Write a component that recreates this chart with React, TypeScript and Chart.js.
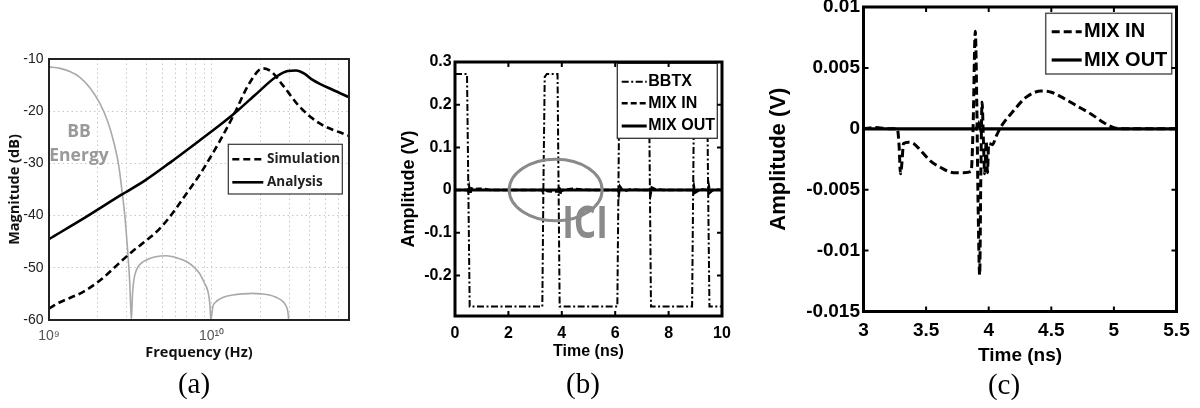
import React, { useEffect, useRef } from "react";
import { Chart, registerables } from "chart.js";

Chart.register(...registerables);

// ---------------- Panel (a) data : magnitude vs frequency ----------------
const A_SIM_FREQ = [1.0e9, 1.168e9, 1.623e9, 2.1e9, 2.662e9, 3.217e9, 3.882e9, 4.797e9, 5.929e9, 6.996e9, 8.441e9, 1.019e10, 1.12e10, 1.384e10, 1.711e10, 2.064e10, 2.324e10, 2.738e10, 3.467e10, 4.598e10, 6.86e10, 7.0e10];
const A_SIM_DB = [-57.8, -56.6, -54.6, -52.2, -49.3, -47.0, -45.0, -42.5, -39.0, -35.8, -32.2, -28.0, -25.8, -20.4, -14.6, -11.8, -12.4, -15.0, -19.1, -22.3, -24.6, -24.7];

const A_ANA_FREQ = [1.0e9, 1.663e9, 2.793e9, 3.882e9, 5.525e9, 8.441e9, 1.12e10, 1.384e10, 1.836e10, 2.494e10, 2.938e10, 3.309e10, 3.72e10, 4.183e10, 5.55e10, 7.0e10];
const A_ANA_DB = [-44.5, -40.4, -36.0, -33.3, -29.9, -25.6, -22.7, -20.4, -17.0, -13.4, -12.3, -12.2, -12.8, -14.0, -15.9, -17.3];

const A_BB_FREQ = [
  1.0e9, 1.168e9, 1.345e9, 1.549e9, 1.784e9, 2.055e9, 2.3e9, 2.506e9, 2.688e9, 2.805e9, 2.926e9, 3.05e9, 3.14e9, 3.21e9,
  3.263e9, 3.32e9, 3.45e9, 3.67e9, 3.98e9, 4.53e9, 5.27e9, 6.1e9, 7.0e9, 7.87e9, 8.44e9, 9.06e9, 9.49e9, 9.76e9, 9.9e9,
  1.007e10, 1.019e10, 1.058e10, 1.12e10, 1.22e10, 1.352e10, 1.55e10, 1.79e10, 2.03e10, 2.27e10, 2.47e10, 2.68e10, 2.81e10, 2.9e10, 2.95e10, 2.98e10,
];
const A_BB_DB = [
  -11.5, -11.8, -12.4, -13.5, -15.5, -18.5, -22, -26, -30.5, -35, -40, -47, -53, -60,
  -55, -52.5, -50.4, -49.2, -48.5, -47.9, -47.7, -48.1, -48.8, -50.0, -51.1, -53, -54.5, -57, -60,
  -58.5, -57.4, -56.6, -56.0, -55.5, -55.2, -55.0, -54.9, -55.0, -55.2, -55.6, -56.2, -56.8, -57.6, -58.6, -60,
];

const A_Y_TICKS = [-60, -50, -40, -30, -20, -10];
const A_X_GRID = [1e9, 2e9, 3e9, 4e9, 5e9, 6e9, 7e9, 8e9, 9e9, 1e10, 2e10, 3e10, 4e10, 5e10, 6e10, 7e10];
const A_X_MAJOR = [1e9, 1e10];
const A_X_MAJOR_LABELS = ["10⁹", "10¹⁰"];
const A_LABELS = ["Simulation", "Analysis", "BB Energy"];
const A_NOTE = ["BB", "Energy"];

// ---------------- Panel (b) data : time domain ----------------
const B_BBTX_TIME = [0, 0.45, 0.5, 0.55, 3.27, 3.31, 3.36, 3.44, 3.84, 3.88, 3.92, 6.08, 6.12, 6.16, 7.26, 7.3, 7.34, 8.88, 8.92, 8.96, 9.44, 9.48, 9.53, 10];
const B_BBTX = [0.272, 0.272, 0, -0.273, -0.273, 0, 0.265, 0.272, 0.272, 0, -0.273, -0.273, 0, 0.272, 0.272, 0, -0.273, -0.273, 0, 0.272, 0.272, 0, -0.273, -0.273];

const B_MIX_TIME = [0, 0.45, 0.5, 0.53, 0.57, 0.62, 0.7, 0.9, 1.1, 1.3, 3.27, 3.29, 3.33, 3.5, 3.7, 3.86, 3.89, 3.93, 3.97, 4.05, 4.4, 4.8, 5.1, 6.08, 6.11, 6.14, 6.18, 6.3, 6.6, 7.0, 7.27, 7.3, 7.33, 7.37, 7.5, 7.8, 8.89, 8.92, 8.95, 8.99, 9.2, 9.45, 9.48, 9.51, 9.55, 9.7, 10];
const B_MIX_IN = [0, 0, -0.004, 0.006, -0.01, 0.004, 0.002, 0.003, 0.003, 0, 0, -0.0037, -0.0012, -0.0026, -0.0036, -0.0035, 0.008, -0.012, -0.003, 0, 0.003, 0.001, 0, 0, 0.004, -0.008, 0.008, -0.003, 0.002, 0, 0, 0.004, -0.008, 0.006, 0.002, 0, 0, -0.004, 0.008, -0.006, 0.002, 0, -0.004, 0.008, -0.006, 0.002, 0];

const B_OUT_TIME = [0, 3.9, 3.93, 3.96, 10];
const B_MIX_OUT = [0, 0, 0.002, 0, 0];

const B_X_TICKS = [0, 2, 4, 6, 8, 10];
const B_Y_TICKS = [-0.2, -0.1, 0, 0.1, 0.2, 0.3];
const B_LABELS = ["BBTX", "MIX IN", "MIX OUT"];
const B_NOTE = "ICI";
const B_ICI_CENTER = [3.77, 0];
const B_ICI_RADII = [1.74, 0.072];
const B_ICI_TEXT_AT = [4.87, -0.112];

// ---------------- Panel (c) data : zoomed time domain ----------------
const C_TIME = [3.0, 3.1, 3.2, 3.27, 3.285, 3.295, 3.305, 3.32, 3.36, 3.4, 3.45, 3.53, 3.62, 3.72, 3.8, 3.86, 3.875, 3.893, 3.905, 3.915, 3.928, 3.937, 3.947, 3.958, 3.968, 3.98, 3.99, 4.0, 4.03, 4.06, 4.1, 4.2, 4.3, 4.42, 4.5, 4.6, 4.7, 4.82, 4.92, 5.0, 5.1, 5.3, 5.5];
const C_MIX_IN = [0, 0.0001, 0, 0, -0.0015, -0.0037, -0.003, -0.0012, -0.0011, -0.0012, -0.0017, -0.0026, -0.0032, -0.0036, -0.0036, -0.0035, 0, 0.008, 0.002, -0.006, -0.012, -0.004, 0.0022, -0.001, -0.0037, -0.001, -0.0036, -0.0012, -0.0013, -0.0006, 0.0002, 0.0015, 0.0026, 0.0031, 0.003, 0.0025, 0.0019, 0.0012, 0.0005, 0.0001, 0, 0, 0];
const C_OUT_TIME = [3.0, 3.9, 3.92, 3.94, 3.96, 5.5];
const C_MIX_OUT = [0, 0, 0.0004, -0.0002, 0, 0];

const C_X_TICKS = [3, 3.5, 4, 4.5, 5, 5.5];
const C_Y_TICKS = [-0.015, -0.01, -0.005, 0, 0.005, 0.01];
const C_LABELS = ["MIX IN", "MIX OUT"];

const PANEL_LABELS = ["(a)", "(b)", "(c)"];

// ---------------- layout ----------------
type Rect = { x: number; y: number; w: number; h: number };
type Area = { l: number; t: number; r: number; b: number };

const SANS = '"Liberation Sans", Arial, Helvetica, sans-serif';
const OPEN = '"Open Sans", "Liberation Sans", Arial, sans-serif';
const SERIF = '"Liberation Serif", "Times New Roman", Times, serif';

const A_CANVAS: Rect = { x: 0, y: 0, w: 400, h: 408 };
const A_AREA: Area = { l: 49, t: 59, r: 349, b: 320 };
const B_CANVAS: Rect = { x: 380, y: 0, w: 400, h: 408 };
const B_AREA: Area = { l: 455, t: 62, r: 722, b: 316 };
const C_CANVAS: Rect = { x: 740, y: -30, w: 460, h: 438 };
const C_AREA: Area = { l: 863.5, t: 7, r: 1176.5, b: 311.5 };
const PANEL_LABEL_POS = [
  [194, 385.5],
  [583, 385.5],
  [1004, 387],
];

function pts(xs: number[], ys: number[]) {
  return xs.map((x, i) => ({ x, y: ys[i] }));
}

function computeLayout(can: Rect, area: Area, yTitleX: number, yTitleLH: number, xTitleY: number, xTitleLH: number) {
  const l = area.l - can.x;
  const t = area.t - can.y;
  const r = area.r - can.x;
  const b = area.b - can.y;
  const padLeft = yTitleX - can.x - yTitleLH / 2;
  const xBottom = xTitleY - can.y + xTitleLH / 2;
  return {
    padding: { left: padLeft, top: t, right: can.w - r, bottom: can.h - xBottom },
    yWidth: l - padLeft,
    xHeight: xBottom - b,
  };
}

function fixedTicks(values: number[]) {
  return (s: any) => {
    s.ticks = values.map((v) => ({ value: v }));
  };
}

function drawFrame(chart: any, lw: number, color: string, ticksX: number[], ticksY: number[], len: number) {
  const { ctx, chartArea: a, scales } = chart;
  ctx.save();
  ctx.setLineDash([]);
  ctx.strokeStyle = color;
  ctx.lineWidth = lw;
  ctx.strokeRect(a.left, a.top, a.right - a.left, a.bottom - a.top);
  ctx.lineWidth = 2;
  ctx.beginPath();
  ticksX.forEach((v) => {
    const p = scales.x.getPixelForValue(v);
    ctx.moveTo(p, a.bottom);
    ctx.lineTo(p, a.bottom - len);
    ctx.moveTo(p, a.top);
    ctx.lineTo(p, a.top + len);
  });
  ticksY.forEach((v) => {
    const p = scales.y.getPixelForValue(v);
    ctx.moveTo(a.left, p);
    ctx.lineTo(a.left + len, p);
    ctx.moveTo(a.right, p);
    ctx.lineTo(a.right - len, p);
  });
  ctx.stroke();
  ctx.restore();
}

type LegendSpec = {
  box: Rect;
  rows: { index: number; y: number }[];
  sx0: number;
  sx1: number;
  tx: number;
  font: string;
  color: string;
  stroke: string;
  strokeWidth: number;
};

function drawLegend(chart: any, spec: LegendSpec) {
  const { ctx } = chart;
  const { box } = spec;
  ctx.save();
  ctx.setLineDash([]);
  ctx.fillStyle = "#ffffff";
  ctx.fillRect(box.x, box.y, box.w, box.h);
  ctx.lineWidth = spec.strokeWidth;
  ctx.strokeStyle = spec.stroke;
  ctx.strokeRect(box.x, box.y, box.w, box.h);
  spec.rows.forEach((row) => {
    const ds = chart.data.datasets[row.index];
    ctx.save();
    ctx.strokeStyle = ds.borderColor;
    ctx.lineWidth = ds.borderWidth;
    ctx.setLineDash(ds.borderDash || []);
    ctx.beginPath();
    ctx.moveTo(spec.sx0, row.y);
    ctx.lineTo(spec.sx1, row.y);
    ctx.stroke();
    ctx.restore();
    ctx.fillStyle = spec.color;
    ctx.font = spec.font;
    ctx.textAlign = "left";
    ctx.textBaseline = "middle";
    ctx.fillText(ds.label, spec.tx, row.y);
  });
  ctx.restore();
}

const baseOptions = (lay: any) => ({
  responsive: false,
  animation: false,
  devicePixelRatio: 1,
  events: [],
  layout: { padding: lay.padding },
  plugins: { legend: { display: false }, tooltip: { enabled: false }, title: { display: false } },
});

// ---------------- configs ----------------
function configA(): any {
  const yLH = 14.5 * 1.2;
  const xLH = 14.5 * 1.2;
  const lay = computeLayout(A_CANVAS, A_AREA, 15, yLH, 353, xLH);
  const gridColor = "#c8c8c8";
  return {
    type: "line",
    data: {
      datasets: [
        { label: A_LABELS[0], data: pts(A_SIM_FREQ, A_SIM_DB), borderColor: "#000", borderWidth: 2.6, borderDash: [7, 4], pointRadius: 0, cubicInterpolationMode: "monotone", fill: false, order: 2 },
        { label: A_LABELS[1], data: pts(A_ANA_FREQ, A_ANA_DB), borderColor: "#000", borderWidth: 2.6, pointRadius: 0, cubicInterpolationMode: "monotone", fill: false, order: 1 },
        { label: A_LABELS[2], data: pts(A_BB_FREQ, A_BB_DB), borderColor: "#a9a9a9", borderWidth: 1.6, pointRadius: 0, cubicInterpolationMode: "monotone", fill: false, order: 3 },
      ],
    },
    options: {
      ...baseOptions(lay),
      scales: {
        x: {
          type: "logarithmic",
          min: 1e9,
          max: 7e10,
          afterBuildTicks: fixedTicks(A_X_GRID),
          afterFit: (s: any) => { s.height = lay.xHeight; },
          ticks: {
            autoSkip: false, maxRotation: 0, minRotation: 0, padding: 8, color: "#555",
            font: { family: SANS, size: 14 },
            callback: (v: number) => { const i = A_X_MAJOR.indexOf(v); return i >= 0 ? A_X_MAJOR_LABELS[i] : ""; },
          },
          grid: { color: gridColor, lineWidth: 1, drawTicks: false },
          border: { display: false, dash: [1.5, 3] },
          title: { display: true, text: "Frequency (Hz)", color: "#111", padding: 0, font: { family: OPEN, size: 14.5, weight: "bold", lineHeight: 1.2 } },
        },
        y: {
          type: "linear",
          min: -60,
          max: -10,
          afterBuildTicks: fixedTicks(A_Y_TICKS),
          afterFit: (s: any) => { s.width = lay.yWidth; },
          ticks: { padding: 5.5, color: "#222", font: { family: SANS, size: 14 }, callback: (v: number) => String(v) },
          grid: { color: gridColor, lineWidth: 1, drawTicks: false },
          border: { display: false, dash: [1.5, 3] },
          title: { display: true, text: "Magnitude (dB)", color: "#111", padding: 0, font: { family: OPEN, size: 14.5, weight: "bold", lineHeight: 1.2 } },
        },
      },
    },
    plugins: [
      {
        id: "decorA",
        afterDatasetsDraw(chart: any) {
          const { ctx, scales } = chart;
          ctx.save();
          ctx.fillStyle = "#999999";
          ctx.font = `bold 17.5px ${OPEN}`;
          ctx.textAlign = "center";
          ctx.textBaseline = "alphabetic";
          const nx = scales.x.getPixelForValue(1.53e9);
          ctx.fillText(A_NOTE[0], nx, scales.y.getPixelForValue(-24.9));
          ctx.fillText(A_NOTE[1], nx, scales.y.getPixelForValue(-29.5));
          ctx.restore();
          drawLegend(chart, {
            box: { x: 228.3, y: 144.3, w: 114, h: 49.7 },
            rows: [ { index: 0, y: 159.3 }, { index: 1, y: 182.3 } ],
            sx0: 232.3, sx1: 263.3, tx: 267,
            font: `bold 13.5px ${OPEN}`, color: "#222", stroke: "#333", strokeWidth: 1.2,
          });
          drawFrame(chart, 2, "#222", [], [], 0);
        },
      },
    ],
  };
}

function configB(): any {
  const yLH = 18 * 1.2;
  const xLH = 16 * 1.2;
  const lay = computeLayout(B_CANVAS, B_AREA, 409, yLH, 352, xLH);
  const font = { family: SANS, size: 16, weight: "bold" };
  return {
    type: "line",
    data: {
      datasets: [
        { label: B_LABELS[0], data: pts(B_BBTX_TIME, B_BBTX), borderColor: "#000", borderWidth: 2, borderDash: [7, 2.5, 2, 2.5], pointRadius: 0, tension: 0, fill: false, order: 3 },
        { label: B_LABELS[1], data: pts(B_MIX_TIME, B_MIX_IN), borderColor: "#000", borderWidth: 2.5, borderDash: [6, 3], pointRadius: 0, tension: 0, fill: false, order: 2 },
        { label: B_LABELS[2], data: pts(B_OUT_TIME, B_MIX_OUT), borderColor: "#000", borderWidth: 3, pointRadius: 0, tension: 0, fill: false, order: 1 },
      ],
    },
    options: {
      ...baseOptions(lay),
      scales: {
        x: {
          type: "linear", min: 0, max: 10,
          afterBuildTicks: fixedTicks(B_X_TICKS),
          afterFit: (s: any) => { s.height = lay.xHeight; },
          ticks: { autoSkip: false, maxRotation: 0, padding: 8, color: "#000", font, callback: (v: number) => String(v) },
          grid: { display: false, drawTicks: false },
          border: { display: false },
          title: { display: true, text: "Time (ns)", color: "#000", padding: 0, font: { family: SANS, size: 16, weight: "bold", lineHeight: 1.2 } },
        },
        y: {
          type: "linear", min: -0.295, max: 0.3,
          afterBuildTicks: fixedTicks(B_Y_TICKS),
          afterFit: (s: any) => { s.width = lay.yWidth; },
          ticks: { padding: 3.3, color: "#000", font, callback: (v: number) => String(v) },
          grid: { display: false, drawTicks: false },
          border: { display: false },
          title: { display: true, text: "Amplitude (V)", color: "#000", padding: 0, font: { family: SANS, size: 18, weight: "bold", lineHeight: 1.2 } },
        },
      },
    },
    plugins: [
      {
        id: "decorB",
        afterDatasetsDraw(chart: any) {
          const { ctx, scales } = chart;
          const cx = scales.x.getPixelForValue(B_ICI_CENTER[0]);
          const cy = scales.y.getPixelForValue(B_ICI_CENTER[1]);
          const rx = scales.x.getPixelForValue(B_ICI_CENTER[0] + B_ICI_RADII[0]) - cx;
          const ry = cy - scales.y.getPixelForValue(B_ICI_CENTER[1] + B_ICI_RADII[1]);
          ctx.save();
          ctx.setLineDash([]);
          ctx.strokeStyle = "#8a8a8a";
          ctx.lineWidth = 3;
          ctx.beginPath();
          ctx.ellipse(cx, cy, rx, ry, 0, 0, Math.PI * 2);
          ctx.stroke();
          ctx.translate(scales.x.getPixelForValue(B_ICI_TEXT_AT[0]), scales.y.getPixelForValue(B_ICI_TEXT_AT[1]));
          ctx.scale(0.8, 1);
          ctx.fillStyle = "#8a8a8a";
          ctx.font = `bold 44px ${OPEN}`;
          ctx.textAlign = "center";
          ctx.textBaseline = "alphabetic";
          ctx.fillText(B_NOTE, 0, 0);
          ctx.restore();
          drawLegend(chart, {
            box: { x: 237.3, y: 63.3, w: 100, h: 75 },
            rows: [ { index: 0, y: 81.7 }, { index: 1, y: 103.3 }, { index: 2, y: 126 } ],
            sx0: 241.7, sx1: 266.7, tx: 268.3,
            font: `bold 16px ${SANS}`, color: "#000", stroke: "#333", strokeWidth: 1.3,
          });
          drawFrame(chart, 3, "#000", [2, 4, 6, 8], [-0.2, -0.1, 0, 0.1, 0.2], 5);
        },
      },
    ],
  };
}

function configC(): any {
  const yLH = 22 * 1.2;
  const xLH = 19 * 1.2;
  const lay = computeLayout(C_CANVAS, C_AREA, 779, yLH, 356, xLH);
  const font = { family: SANS, size: 19, weight: "bold" };
  return {
    type: "line",
    data: {
      datasets: [
        { label: C_LABELS[0], data: pts(C_TIME, C_MIX_IN), borderColor: "#000", borderWidth: 3, borderDash: [8, 4], pointRadius: 0, cubicInterpolationMode: "monotone", fill: false, order: 2 },
        { label: C_LABELS[1], data: pts(C_OUT_TIME, C_MIX_OUT), borderColor: "#000", borderWidth: 3.2, pointRadius: 0, tension: 0, fill: false, order: 1 },
      ],
    },
    options: {
      ...baseOptions(lay),
      scales: {
        x: {
          type: "linear", min: 3, max: 5.5,
          afterBuildTicks: fixedTicks(C_X_TICKS),
          afterFit: (s: any) => { s.height = lay.xHeight; },
          ticks: { autoSkip: false, maxRotation: 0, padding: 8, color: "#000", font, callback: (v: number) => String(v) },
          grid: { display: false, drawTicks: false },
          border: { display: false },
          title: { display: true, text: "Time (ns)", color: "#000", padding: 0, font: { family: SANS, size: 19, weight: "bold", lineHeight: 1.2 } },
        },
        y: {
          type: "linear", min: -0.015, max: 0.01,
          afterBuildTicks: fixedTicks(C_Y_TICKS),
          afterFit: (s: any) => { s.width = lay.yWidth; },
          ticks: { padding: 3.5, color: "#000", font, callback: (v: number) => String(v) },
          grid: { display: false, drawTicks: false },
          border: { display: false },
          title: { display: true, text: "Amplitude (V)", color: "#000", padding: 0, font: { family: SANS, size: 22, weight: "bold", lineHeight: 1.2 } },
        },
      },
    },
    plugins: [
      {
        id: "decorC",
        afterDatasetsDraw(chart: any) {
          drawLegend(chart, {
            box: { x: 305.7, y: 43.3, w: 126, h: 60.7 },
            rows: [ { index: 0, y: 61.7 }, { index: 1, y: 90 } ],
            sx0: 311.7, sx1: 341.7, tx: 344,
            font: `bold 20px ${SANS}`, color: "#000", stroke: "#555", strokeWidth: 1.5,
          });
          drawFrame(chart, 3, "#000", [3.5, 4, 4.5, 5], [-0.01, -0.005, 0, 0.005], 5);
        },
      },
    ],
  };
}

function ChartCanvas({ rect, make }: { rect: Rect; make: () => any }) {
  const ref = useRef<HTMLCanvasElement | null>(null);
  useEffect(() => {
    if (!ref.current) return;
    const chart = new Chart(ref.current, make());
    return () => chart.destroy();
  }, [make]);
  return (
    <canvas
      ref={ref}
      width={rect.w}
      height={rect.h}
      style={{ position: "absolute", left: rect.x, top: rect.y, width: rect.w, height: rect.h }}
    />
  );
}

export default function App() {
  return (
    <div style={{ position: "absolute", left: 0, top: 0, width: 1200, height: 408, overflow: "hidden", background: "#fff" }}>
      <ChartCanvas rect={A_CANVAS} make={configA} />
      <ChartCanvas rect={B_CANVAS} make={configB} />
      <ChartCanvas rect={C_CANVAS} make={configC} />
      {PANEL_LABELS.map((t, i) => (
        <div
          key={t}
          style={{
            position: "absolute",
            left: PANEL_LABEL_POS[i][0] - 40,
            top: PANEL_LABEL_POS[i][1] - 17,
            width: 80,
            textAlign: "center",
            fontFamily: SERIF,
            fontSize: 29,
            lineHeight: "29px",
            color: "#000",
          }}
        >
          {t}
        </div>
      ))}
    </div>
  );
}
